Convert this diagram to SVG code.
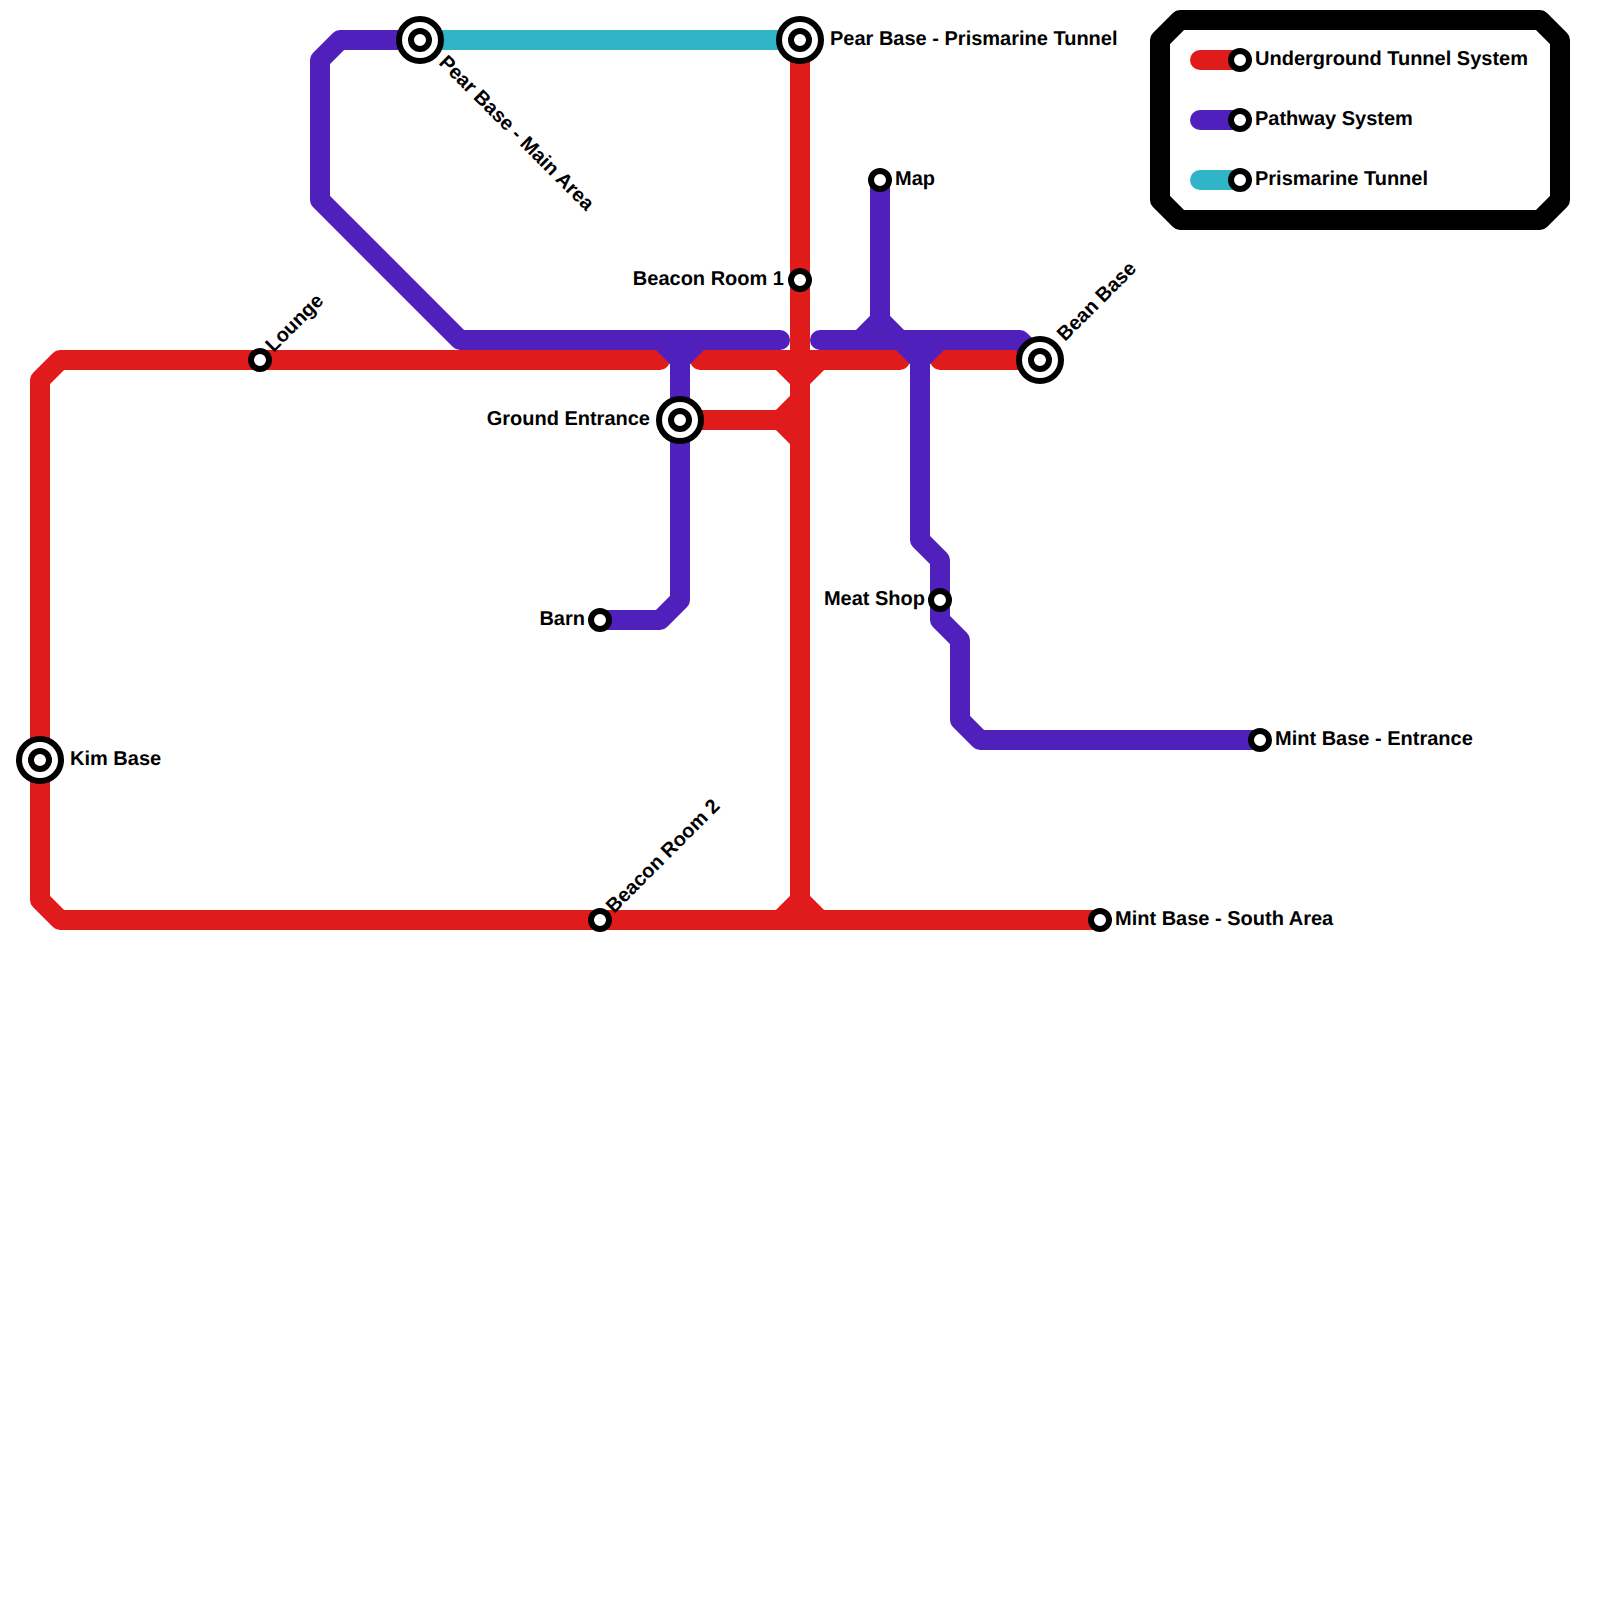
<svg xmlns="http://www.w3.org/2000/svg" width="1600" height="1600" viewBox="0 0 1600 1600">
<style>
.l{fill:none;stroke-width:20;stroke-linecap:round;stroke-linejoin:round}
.r{stroke:#e01b1b}.p{stroke:#4f20bb}.t{stroke:#30b5c8}
.o{fill:#fff;stroke:#000;stroke-width:6}
text{font-family:"Liberation Sans",Arial,sans-serif;font-weight:700;font-size:20px;fill:#000;text-rendering:geometricPrecision}
</style>
<rect width="1600" height="1600" fill="#fff"/>
<g id="connectors">
<path class="l t" d="M420 40H800"/>
<path class="l r" d="M660 360H60L40 380V900L60 920H1100M700 360H900M940 360H1040M800 40V900M780 360L800 380L820 360M680 420H780L800 400M780 420L800 440M780 920L800 900L820 920"/>
<path class="l p" d="M420 40H340L320 60V200L460 340H780M820 340H1020L1040 360M880 180V320M860 340L880 320L900 340L920 360V540L940 560V620L960 640V720L980 740H1260M940 340L920 360M660 340L680 360L700 340M680 360V600L660 620H600"/>
</g>
<g id="legend">
<path fill="#fff" stroke="#000" stroke-width="20" stroke-linejoin="round" d="M1180 20H1540L1560 40V200L1540 220H1180L1160 200V40Z"/>
<path class="l r" d="M1200 60H1240"/><path class="l p" d="M1200 120H1240"/><path class="l t" d="M1200 180H1240"/>
<circle class="o" cx="1240" cy="60" r="9"/><circle class="o" cx="1240" cy="120" r="9"/><circle class="o" cx="1240" cy="180" r="9"/>
<text x="1255" y="65">Underground Tunnel System</text>
<text x="1255" y="125">Pathway System</text>
<text x="1255" y="185">Prismarine Tunnel</text>
</g>
<g id="pear-main"><circle class="o" cx="420" cy="40" r="21"/><circle class="o" cx="420" cy="40" r="9"/><text transform="translate(438 63.5) rotate(45)">Pear Base - Main Area</text></g>
<g id="pear-tunnel"><circle class="o" cx="800" cy="40" r="21"/><circle class="o" cx="800" cy="40" r="9"/><text x="830" y="45">Pear Base - Prismarine Tunnel</text></g>
<g id="map"><circle class="o" cx="880" cy="180" r="9"/><text x="895" y="185">Map</text></g>
<g id="beacon1"><circle class="o" cx="800" cy="280" r="9"/><text x="784" y="285" text-anchor="end">Beacon Room 1</text></g>
<g id="bean"><circle class="o" cx="1040" cy="360" r="21"/><circle class="o" cx="1040" cy="360" r="9"/><text transform="translate(1065 342) rotate(-45)">Bean Base</text></g>
<g id="lounge"><circle class="o" cx="260" cy="360" r="9"/><text transform="translate(273.5 353) rotate(-45)">Lounge</text></g>
<g id="ground"><circle class="o" cx="680" cy="420" r="21"/><circle class="o" cx="680" cy="420" r="9"/><text x="650" y="425" text-anchor="end">Ground Entrance</text></g>
<g id="barn"><circle class="o" cx="600" cy="620" r="9"/><text x="585" y="625" text-anchor="end">Barn</text></g>
<g id="meat"><circle class="o" cx="940" cy="600" r="9"/><text x="925" y="605" text-anchor="end">Meat Shop</text></g>
<g id="mint-entrance"><circle class="o" cx="1260" cy="740" r="9"/><text x="1275" y="745">Mint Base - Entrance</text></g>
<g id="kim"><circle class="o" cx="40" cy="760" r="21"/><circle class="o" cx="40" cy="760" r="9"/><text x="70" y="765">Kim Base</text></g>
<g id="beacon2"><circle class="o" cx="600" cy="920" r="9"/><text transform="translate(614 914) rotate(-45)">Beacon Room 2</text></g>
<g id="mint-south"><circle class="o" cx="1100" cy="920" r="9"/><text x="1115" y="925">Mint Base - South Area</text></g>
</svg>
